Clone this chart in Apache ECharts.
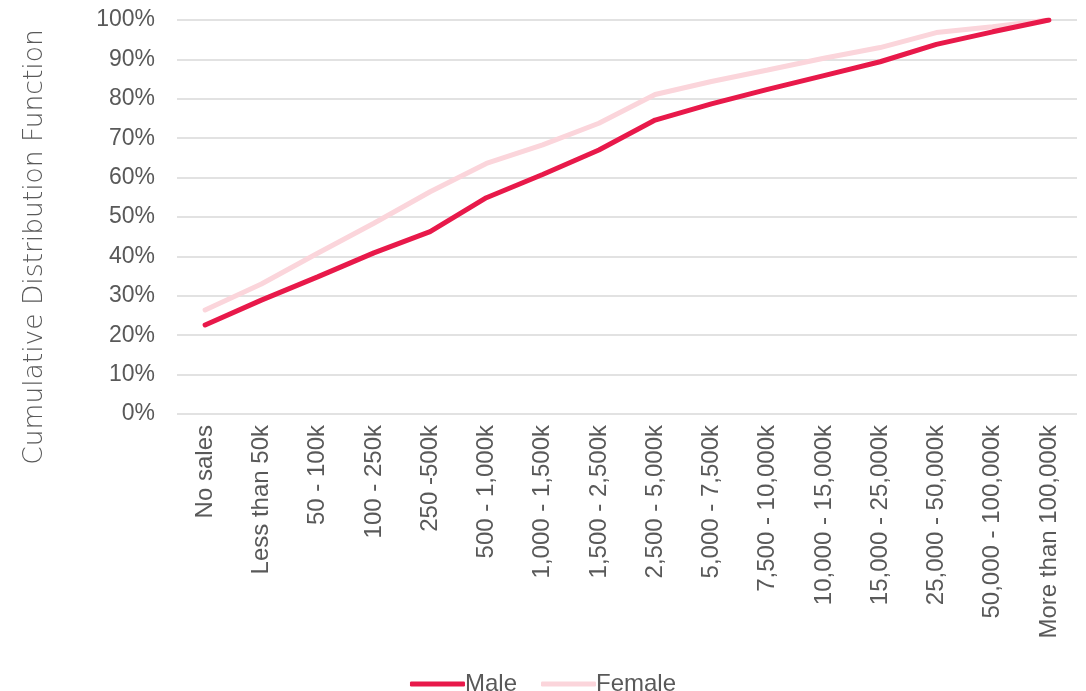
<!DOCTYPE html>
<html lang="en">
<head>
    <meta charset="UTF-8">
    <title>Cumulative Distribution Function</title>
    <script src="https://cdn.jsdelivr.net/npm/echarts@6/dist/echarts.min.js"></script>
    <style>
        html, body { margin: 0; padding: 0; background: #fff; }
    </style>
</head>
<body>
    <div id="main" style="width: 1086px;height:691px;"></div>
    <script type="text/javascript">
        // categories (sales bands)
        var categories = ['No sales', 'Less than 50k', '50 - 100k', '100 - 250k', '250 -500k',
            '500 - 1,000k', '1,000 - 1,500k', '1,500 - 2,500k', '2,500 - 5,000k', '5,000 - 7,500k',
            '7,500 - 10,000k', '10,000 - 15,000k', '15,000 - 25,000k', '25,000 - 50,000k',
            '50,000 - 100,000k', 'More than 100,000k']
        // cumulative share, in %
        var male = [22.6, 28.9, 34.8, 40.9, 46.3, 54.9, 60.8, 67.0, 74.6, 78.7, 82.4, 85.9, 89.4, 93.8, 97.0, 100]
        var female = [26.4, 33.0, 40.8, 48.4, 56.4, 63.6, 68.3, 73.8, 81.1, 84.4, 87.3, 90.3, 93.0, 96.8, 98.3, 100]
        var yTitle = 'Cumulative Distribution Function'

        var textColor = '#595959'
        var font = 'Liberation Sans, Arial, sans-serif'

        var myChart = echarts.init(document.getElementById('main'))

        var option = {
            animation: false,
            textStyle: { fontFamily: font },
            grid: { left: 177, right: 9, top: 20, bottom: 277 },
            // axis title drawn as graphic so it can sit a bit lower than the grid centre
            graphic: [{
                type: 'text',
                x: 35,
                y: 247,
                rotation: Math.PI / 2,
                style: {
                    text: yTitle,
                    fill: textColor,
                    font: '200 26.5px "DejaVu Sans"',
                    align: 'center',
                    verticalAlign: 'middle'
                }
            }],
            legend: {
                top: 667,
                left: 'center',
                itemWidth: 55,
                itemHeight: 5,
                itemGap: 24,
                icon: 'roundRect',
                textStyle: { color: textColor, fontSize: 24, fontFamily: font, padding: [0, 0, 0, -5] },
                data: ['Male', 'Female']
            },
            xAxis: {
                type: 'category',
                data: categories,
                boundaryGap: true,
                axisLine: { show: false },
                axisTick: { show: false },
                axisLabel: {
                    rotate: 90,
                    interval: 0,
                    margin: 11,
                    color: textColor,
                    fontSize: 24,
                    fontFamily: font
                }
            },
            yAxis: {
                type: 'value',
                min: 0,
                max: 100,
                interval: 10,
                axisLabel: {
                    formatter: '{value}%',
                    color: textColor,
                    fontSize: 23,
                    margin: 22,
                    fontFamily: font
                },
                splitLine: { lineStyle: { color: '#d9d9d9', width: 1.5 } }
            },
            series: [{
                name: 'Male',
                type: 'line',
                data: male,
                symbol: 'none',
                z: 3,
                lineStyle: { color: '#e8194a', width: 5, cap: 'round' },
                itemStyle: { color: '#e8194a' }
            }, {
                name: 'Female',
                type: 'line',
                data: female,
                symbol: 'none',
                z: 2,
                lineStyle: { color: '#fbd5db', width: 5, cap: 'round' },
                itemStyle: { color: '#fbd5db' }
            }]
        }

        myChart.setOption(option)
    </script>
</body>
</html>
